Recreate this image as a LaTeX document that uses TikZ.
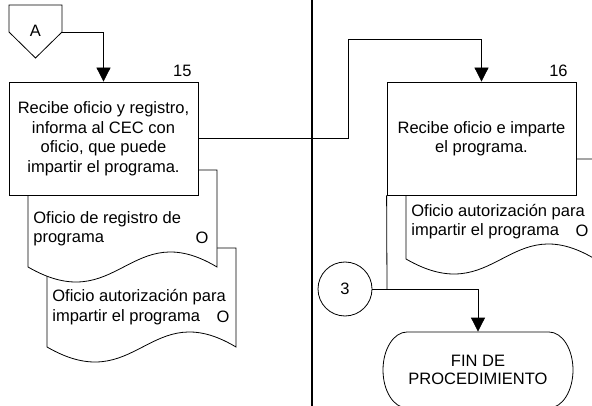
\documentclass[tikz,border=0pt]{standalone}
\usepackage{fontspec}
\setmainfont{Liberation Sans}
\usetikzlibrary{arrows.meta}
\newcommand\docshape[3]{\draw[fill=white] (#1,#2) -- (#1,#3) .. controls (#1+90,#3+52) and (#1+102,#3-52) .. (#1+189,#3) -- (#1+189,#2) -- cycle;}
\begin{document}
\begin{tikzpicture}[x=1pt,y=-1pt,
  line width=0.8pt,
  txt/.style={font=\fontsize{16.5}{19.5}\selectfont, inner sep=0pt},
  proc/.style={draw, fill=white, txt, align=center, minimum width=189pt, minimum height=113pt},
  arr/.style={-{Triangle[width=14pt,length=14pt]}},
]
\useasboundingbox (0,0) rectangle (592,406);
\clip (0,0) rectangle (592,406);

% lane separator
\draw[line width=2pt] (311.5,0) -- (311.5,406);

% off-page connector A
\draw[fill=white] (9,5) -- (62,5) -- (62,32) -- (35.5,58) -- (9,32) -- cycle;
\node[txt] (A) at (35.5,31) {A};
\coordinate (Aout) at (62,32);

% documents (left)
\docshape{47}{248}{347}
\node[txt, align=left, anchor=west] (d2t) at (52,307) {Oficio autorización para\\impartir el programa};
\node[txt] (d2o) at (223,317) {O};
\docshape{28}{170}{267}
\node[txt, align=left, anchor=west] (d1t) at (33,228.5) {Oficio de registro de\\programa};
\node[txt] (d1o) at (202,238) {O};

% box 15
\node[proc] (b15) at (103.5,138.5) {Recibe oficio y registro,\\informa al CEC con\\oficio, que puede\\impartir el programa.};
\node[txt, anchor=east] (n15) at (192,70.5) {15};

% document (right)
\docshape{406}{159}{259}
\node[txt, align=left, anchor=west] (d3t) at (411,221.5) {Oficio autorización para\\impartir el programa};
\node[txt] (d3o) at (582,231) {O};

% box 16
\node[proc] (b16) at (481.5,138.5) {Recibe oficio e imparte\\el programa.};
\node[txt, anchor=east] (n16) at (568,70.5) {16};

% connector 3
\node[draw, circle, minimum size=54pt, txt] (c3) at (345,289) {3};
\coordinate (j) at (387,289);

% terminal
\draw[fill=white] (407,332) -- (549,332)
  .. controls (562.2,332) and (573,349) .. (573,370)
  .. controls (573,391) and (562.2,408) .. (549,408)
  -- (407,408)
  .. controls (393.8,408) and (383,391) .. (383,370)
  .. controls (383,349) and (393.8,332) .. (407,332) -- cycle;
\node[txt, align=center, minimum width=190pt, minimum height=76pt, font=\fontsize{16.5}{18.5}\selectfont] (term) at (478,370) {FIN DE\\PROCEDIMIENTO};

% connectors
\draw[arr] (Aout) -| (b15.north);
\draw[arr] (b15.east) -| (348,39) -| (b16.north);
\draw (b16.south west) -- (j);
\draw[arr] (c3.east) -| (term.north);
\end{tikzpicture}
\end{document}
